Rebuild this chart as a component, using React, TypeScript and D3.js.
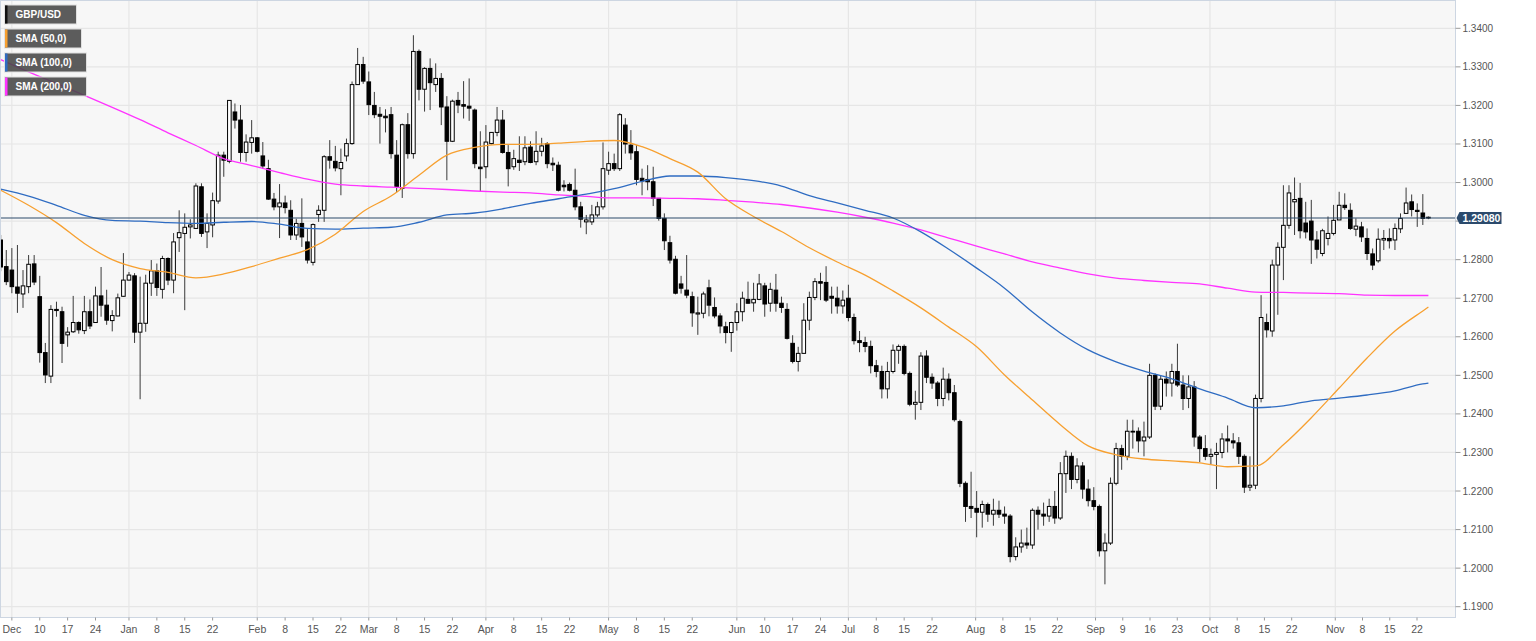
import React from 'react';
import * as d3 from 'd3';

// ---------- DATA ----------
// first candle date (weekdays only, one candle per weekday)
const firstDay = '2018-11-29';

// [open, high, low, close]
const candles: [number, number, number, number][] = [
  [1.2851,1.2864,1.2770,1.2781],[1.2782,1.2825,1.2734,1.2743],[1.2773,1.2830,1.2713,1.2730],[1.2729,1.2838,1.2662,1.2713],
  [1.2711,1.2773,1.2675,1.2732],[1.2730,1.2812,1.2713,1.2788],[1.2789,1.2812,1.2734,1.2742],[1.2704,1.2758,1.2533,1.2559],
  [1.2559,1.2584,1.2480,1.2501],[1.2498,1.2682,1.2480,1.2671],[1.2671,1.2691,1.2652,1.2668],[1.2665,1.2678,1.2532,1.2583],
  [1.2605,1.2625,1.2574,1.2612],[1.2613,1.2706,1.2610,1.2637],[1.2637,1.2640,1.2608,1.2618],[1.2616,1.2706,1.2607,1.2665],
  [1.2665,1.2697,1.2620,1.2628],[1.2637,1.2730,1.2636,1.2706],[1.2706,1.2781,1.2652,1.2682],[1.2682,1.2722,1.2631,1.2643],
  [1.2642,1.2669,1.2614,1.2655],[1.2654,1.2712,1.2653,1.2701],[1.2705,1.2817,1.2704,1.2747],[1.2747,1.2768,1.2746,1.2760],
  [1.2758,1.2765,1.2584,1.2612],[1.2612,1.2756,1.2438,1.2635],[1.2635,1.2761,1.2613,1.2739],[1.2739,1.2799,1.2706,1.2771],
  [1.2771,1.2790,1.2706,1.2728],[1.2723,1.2810,1.2699,1.2803],[1.2803,1.2806,1.2734,1.2747],[1.2747,1.2869,1.2713,1.2846],
  [1.2857,1.2928,1.2820,1.2870],[1.2868,1.2920,1.2669,1.2884],[1.2885,1.2905,1.2855,1.2890],[1.2881,1.2998,1.2880,1.2991],
  [1.2989,1.2998,1.2859,1.2868],[1.2872,1.2920,1.2830,1.2894],[1.2890,1.2974,1.2858,1.2953],[1.2952,1.3080,1.2945,1.3071],
  [1.3071,1.3080,1.3015,1.3058],[1.3055,1.3214,1.3050,1.3213],[1.3183,1.3205,1.3140,1.3162],[1.3162,1.3201,1.3054,1.3078],
  [1.3078,1.3125,1.3054,1.3105],[1.3104,1.3162,1.3075,1.3116],[1.3116,1.3118,1.3078,1.3081],[1.3069,1.3105,1.3035,1.3043],
  [1.3036,1.3059,1.2955,1.2957],[1.2957,1.2973,1.2928,1.2937],[1.2937,1.2996,1.2856,1.2947],[1.2947,1.2966,1.2920,1.2935],
  [1.2928,1.2954,1.2851,1.2864],[1.2864,1.2906,1.2851,1.2894],[1.2894,1.2959,1.2833,1.2859],[1.2846,1.2880,1.2790,1.2799],
  [1.2793,1.2894,1.2785,1.2891],[1.2917,1.2941,1.2898,1.2928],[1.2928,1.3071,1.2898,1.3067],[1.3067,1.3110,1.3036,1.3058],
  [1.3055,1.3095,1.3029,1.3038],[1.3036,1.3088,1.2967,1.3052],[1.3069,1.3114,1.3055,1.3101],[1.3101,1.3262,1.3098,1.3254],
  [1.3254,1.3349,1.3254,1.3306],[1.3306,1.3326,1.3256,1.3263],[1.3261,1.3288,1.3175,1.3202],[1.3200,1.3235,1.3167,1.3176],
  [1.3177,1.3196,1.3101,1.3172],[1.3172,1.3190,1.3130,1.3168],[1.3176,1.3196,1.3062,1.3075],[1.3071,1.3110,1.2975,1.2990],
  [1.2985,1.3153,1.2960,1.3150],[1.3150,1.3180,1.3062,1.3075],[1.3075,1.3382,1.3062,1.3340],[1.3340,1.3345,1.3213,1.3242],
  [1.3242,1.3299,1.3184,1.3296],[1.3296,1.3322,1.3188,1.3259],[1.3254,1.3309,1.3235,1.3270],[1.3270,1.3284,1.3149,1.3196],
  [1.3196,1.3224,1.3006,1.3107],[1.3107,1.3215,1.3105,1.3211],[1.3213,1.3235,1.3180,1.3201],[1.3202,1.3263,1.3166,1.3198],
  [1.3198,1.3270,1.3160,1.3193],[1.3188,1.3192,1.3037,1.3049],[1.3040,1.3133,1.2976,1.3036],[1.3041,1.3149,1.3011,1.3105],
  [1.3101,1.3131,1.3099,1.3130],[1.3130,1.3196,1.3120,1.3162],[1.3162,1.3188,1.3075,1.3078],[1.3078,1.3097,1.2990,1.3036],
  [1.3041,1.3085,1.3033,1.3062],[1.3058,1.3120,1.3030,1.3052],[1.3054,1.3120,1.3045,1.3090],[1.3092,1.3107,1.3050,1.3052],
  [1.3054,1.3133,1.3045,1.3081],[1.3081,1.3116,1.3068,1.3095],[1.3101,1.3105,1.3037,1.3049],[1.3050,1.3065,1.3030,1.3046],
  [1.3045,1.3054,1.2977,1.2980],[1.2993,1.3006,1.2977,1.2989],[1.2995,1.3000,1.2977,1.2980],[1.2980,1.3036,1.2928,1.2937],
  [1.2937,1.2950,1.2883,1.2905],[1.2898,1.2916,1.2866,1.2903],[1.2898,1.2942,1.2890,1.2916],[1.2916,1.2950,1.2910,1.2937],
  [1.2937,1.3104,1.2930,1.3036],[1.3032,1.3080,1.3020,1.3049],[1.3049,1.3075,1.3030,1.3036],[1.3036,1.3180,1.3030,1.3176],
  [1.3149,1.3167,1.3075,1.3100],[1.3097,1.3136,1.3059,1.3077],[1.3080,1.3097,1.2993,1.3008],[1.3011,1.3036,1.2967,1.3004],
  [1.3008,1.3045,1.2980,1.3002],[1.3002,1.3041,1.2939,1.2959],[1.2959,1.2960,1.2901,1.2907],[1.2907,1.2920,1.2825,1.2849],
  [1.2844,1.2862,1.2790,1.2799],[1.2801,1.2810,1.2710,1.2713],[1.2737,1.2758,1.2712,1.2726],[1.2721,1.2812,1.2700,1.2708],
  [1.2704,1.2717,1.2626,1.2662],[1.2659,1.2704,1.2605,1.2662],[1.2661,1.2717,1.2648,1.2711],[1.2727,1.2748,1.2653,1.2682],
  [1.2676,1.2702,1.2648,1.2654],[1.2654,1.2661,1.2609,1.2628],[1.2626,1.2639,1.2583,1.2611],[1.2611,1.2639,1.2561,1.2637],
  [1.2637,1.2687,1.2616,1.2665],[1.2665,1.2717,1.2640,1.2700],[1.2697,1.2743,1.2686,1.2687],[1.2688,1.2740,1.2665,1.2697],
  [1.2697,1.2763,1.2695,1.2737],[1.2732,1.2740,1.2652,1.2685],[1.2687,1.2740,1.2665,1.2723],[1.2721,1.2763,1.2665,1.2687],
  [1.2687,1.2704,1.2662,1.2676],[1.2671,1.2687,1.2593,1.2596],[1.2583,1.2604,1.2531,1.2536],[1.2536,1.2574,1.2510,1.2557],
  [1.2557,1.2687,1.2557,1.2643],[1.2643,1.2717,1.2617,1.2702],[1.2702,1.2752,1.2695,1.2743],[1.2743,1.2766,1.2695,1.2739],
  [1.2741,1.2783,1.2690,1.2695],[1.2705,1.2730,1.2660,1.2700],[1.2700,1.2730,1.2660,1.2680],[1.2680,1.2720,1.2660,1.2695],
  [1.2700,1.2735,1.2640,1.2650],[1.2650,1.2660,1.2580,1.2590],[1.2590,1.2615,1.2560,1.2585],[1.2585,1.2600,1.2560,1.2575],
  [1.2575,1.2590,1.2505,1.2525],[1.2525,1.2540,1.2495,1.2510],[1.2510,1.2525,1.2440,1.2465],[1.2465,1.2535,1.2440,1.2510],
  [1.2510,1.2580,1.2505,1.2565],[1.2565,1.2580,1.2530,1.2575],[1.2575,1.2580,1.2500,1.2505],[1.2505,1.2510,1.2420,1.2425],
  [1.2425,1.2460,1.2385,1.2430],[1.2430,1.2560,1.2410,1.2550],[1.2550,1.2565,1.2480,1.2495],[1.2495,1.2505,1.2465,1.2480],
  [1.2480,1.2485,1.2420,1.2440],[1.2440,1.2520,1.2420,1.2490],[1.2490,1.2505,1.2435,1.2455],[1.2455,1.2475,1.2380,1.2385],
  [1.2380,1.2385,1.2210,1.2220],[1.2220,1.2225,1.2120,1.2160],[1.2160,1.2250,1.2130,1.2155],[1.2155,1.2200,1.2080,1.2145],
  [1.2145,1.2175,1.2105,1.2165],[1.2165,1.2170,1.2120,1.2140],[1.2140,1.2180,1.2110,1.2150],[1.2150,1.2175,1.2130,1.2140],
  [1.2140,1.2160,1.2115,1.2135],[1.2135,1.2140,1.2015,1.2030],[1.2030,1.2080,1.2020,1.2055],[1.2055,1.2100,1.2040,1.2065],
  [1.2065,1.2105,1.2050,1.2060],[1.2060,1.2155,1.2050,1.2150],[1.2150,1.2160,1.2100,1.2140],[1.2140,1.2170,1.2110,1.2135],
  [1.2135,1.2180,1.2120,1.2160],[1.2160,1.2200,1.2115,1.2130],[1.2130,1.2275,1.2125,1.2245],[1.2245,1.2305,1.2195,1.2290],
  [1.2290,1.2300,1.2205,1.2230],[1.2230,1.2285,1.2220,1.2265],[1.2265,1.2275,1.2180,1.2205],[1.2205,1.2230,1.2160,1.2175],
  [1.2175,1.2210,1.2150,1.2160],[1.2160,1.2165,1.2030,1.2045],[1.2045,1.2090,1.1958,1.2065],[1.2065,1.2235,1.2060,1.2220],
  [1.2220,1.2325,1.2215,1.2310],[1.2310,1.2320,1.2255,1.2290],[1.2290,1.2385,1.2280,1.2355],[1.2355,1.2385,1.2310,1.2355],
  [1.2355,1.2365,1.2300,1.2330],[1.2330,1.2380,1.2290,1.2340],[1.2340,1.2530,1.2335,1.2500],[1.2500,1.2505,1.2410,1.2420],
  [1.2420,1.2500,1.2410,1.2490],[1.2490,1.2510,1.2445,1.2480],[1.2480,1.2530,1.2445,1.2510],[1.2510,1.2582,1.2470,1.2475],
  [1.2475,1.2500,1.2410,1.2440],[1.2440,1.2500,1.2415,1.2470],[1.2470,1.2485,1.2315,1.2340],[1.2340,1.2345,1.2275,1.2310],
  [1.2310,1.2345,1.2280,1.2290],[1.2290,1.2310,1.2270,1.2295],[1.2295,1.2325,1.2205,1.2300],[1.2300,1.2350,1.2285,1.2335],
  [1.2335,1.2370,1.2300,1.2330],[1.2330,1.2350,1.2310,1.2325],[1.2325,1.2340,1.2270,1.2290],[1.2290,1.2295,1.2195,1.2210],
  [1.2210,1.2290,1.2200,1.2215],[1.2215,1.2450,1.2205,1.2440],[1.2440,1.2708,1.2430,1.2650],[1.2637,1.2660,1.2598,1.2618],
  [1.2615,1.2800,1.2600,1.2786],[1.2786,1.2845,1.2657,1.2832],[1.2832,1.2993,1.2747,1.2889],[1.2889,1.2993,1.2880,1.2973],
  [1.2950,1.3013,1.2864,1.2956],[1.2959,1.2999,1.2855,1.2875],[1.2895,1.2950,1.2855,1.2872],[1.2900,1.2955,1.2789,1.2851],
  [1.2851,1.2874,1.2803,1.2827],[1.2816,1.2880,1.2809,1.2875],[1.2855,1.2912,1.2837,1.2868],[1.2868,1.2942,1.2863,1.2902],
  [1.2903,1.2976,1.2903,1.2941],[1.2941,1.2972,1.2929,1.2935],[1.2928,1.2946,1.2877,1.2881],[1.2879,1.2907,1.2861,1.2887],
  [1.2885,1.2898,1.2846,1.2859],[1.2855,1.2881,1.2799,1.2816],[1.2815,1.2829,1.2773,1.2786],[1.2797,1.2881,1.2792,1.2853],
  [1.2851,1.2877,1.2825,1.2855],[1.2855,1.2881,1.2829,1.2849],[1.2851,1.2894,1.2825,1.2881],[1.2880,1.2920,1.2869,1.2907],
  [1.2920,1.2987,1.2920,1.2947],[1.2950,1.2969,1.2912,1.2930],[1.2928,1.2946,1.2885,1.2925],[1.2921,1.2970,1.2890,1.2907],
  [1.2910,1.2912,1.2905,1.2908],
];

// moving averages, sampled every 5th candle (plus the last candle)
const smaStep = 5;
const sma50: number[] = [
  1.2980,1.2941,1.2896,1.2842,1.2800,1.2777,1.2767,1.2753,1.2763,1.2782,1.2804,1.2826,1.2866,1.2925,1.2965,1.3019,
  1.3071,1.3091,1.3099,1.3099,1.3102,1.3107,1.3109,1.3093,1.3062,1.3027,1.2958,1.2912,1.2873,1.2831,1.2794,1.2760,
  1.2719,1.2675,1.2625,1.2574,1.2501,1.2436,1.2372,1.2317,1.2294,1.2283,1.2278,1.2273,1.2263,1.2265,1.2320,1.2390,
  1.2467,1.2545,1.2615,1.2667,1.2677,
];
const sma100: number[] = [
  1.2983,1.2965,1.2941,1.2915,1.2902,1.2900,1.2896,1.2894,1.2897,1.2899,1.2892,1.2881,1.2879,1.2882,1.2884,1.2897,
  1.2916,1.2921,1.2932,1.2946,1.2958,1.2970,1.2984,1.3003,1.3017,1.3017,1.3013,1.3005,1.2991,1.2966,1.2947,1.2928,
  1.2908,1.2872,1.2827,1.2778,1.2726,1.2664,1.2610,1.2566,1.2535,1.2511,1.2491,1.2465,1.2441,1.2416,1.2421,1.2434,
  1.2441,1.2449,1.2460,1.2478,1.2480,
];
const sma200: number[] = [
  1.3319,1.3287,1.3257,1.3226,1.3195,1.3163,1.3129,1.3096,1.3062,1.3044,1.3026,1.3009,1.2996,1.2991,1.2988,1.2985,
  1.2982,1.2978,1.2975,1.2973,1.2968,1.2964,1.2960,1.2960,1.2959,1.2958,1.2954,1.2949,1.2943,1.2934,1.2923,1.2910,
  1.2895,1.2877,1.2856,1.2835,1.2815,1.2794,1.2778,1.2763,1.2752,1.2746,1.2741,1.2737,1.2726,1.2716,1.2715,1.2713,
  1.2712,1.2708,1.2707,1.2707,1.2707,
];

const currentPrice = 1.2908;
const yTicks = [1.19, 1.20, 1.21, 1.22, 1.23, 1.24, 1.25, 1.26, 1.27, 1.28, 1.29, 1.30, 1.31, 1.32, 1.33, 1.34];

// x-axis ticks: [date, label, isMonth]
const xTicks: [string, string, boolean][] = [
  ['2018-12-03','Dec',true],['2018-12-10','10',false],['2018-12-17','17',false],['2018-12-24','24',false],
  ['2019-01-01','Jan',true],['2019-01-08','8',false],['2019-01-15','15',false],['2019-01-22','22',false],
  ['2019-02-01','Feb',true],['2019-02-08','8',false],['2019-02-15','15',false],['2019-02-22','22',false],
  ['2019-03-01','Mar',true],['2019-03-08','8',false],['2019-03-15','15',false],['2019-03-22','22',false],
  ['2019-04-01','Apr',true],['2019-04-08','8',false],['2019-04-15','15',false],['2019-04-22','22',false],
  ['2019-05-01','May',true],['2019-05-08','8',false],['2019-05-15','15',false],['2019-05-22','22',false],
  ['2019-06-03','Jun',true],['2019-06-10','10',false],['2019-06-17','17',false],['2019-06-24','24',false],
  ['2019-07-01','Jul',true],['2019-07-08','8',false],['2019-07-15','15',false],['2019-07-22','22',false],
  ['2019-08-01','Aug',true],['2019-08-08','8',false],['2019-08-15','15',false],['2019-08-22','22',false],
  ['2019-09-02','Sep',true],['2019-09-09','9',false],['2019-09-16','16',false],['2019-09-23','23',false],
  ['2019-10-01','Oct',true],['2019-10-08','8',false],['2019-10-15','15',false],['2019-10-22','22',false],
  ['2019-11-01','Nov',true],['2019-11-08','8',false],['2019-11-15','15',false],['2019-11-22','22',false],
];

const legendItems: [string, string][] = [
  ['GBP/USD', '#111111'],
  ['SMA (50,0)', '#f7a030'],
  ['SMA (100,0)', '#2f6cc2'],
  ['SMA (200,0)', '#ff33ff'],
];

// ---------- CHART ----------
const W = 1536, H = 641;
const plot = { left: 0.5, right: 1455.5, top: 0.5, bottom: 617.5 };
const FONT = '"Liberation Sans", Arial, Helvetica, sans-serif';

function weekdayDates(start: string, count: number): string[] {
  const out: string[] = [];
  const d = new Date(start + 'T12:00:00Z');
  while (out.length < count) {
    const wd = d.getUTCDay();
    if (wd !== 0 && wd !== 6) out.push(d.toISOString().slice(0, 10));
    d.setUTCDate(d.getUTCDate() + 1);
  }
  return out;
}

export default function App() {
  const n = candles.length;
  const dates = weekdayDates(firstDay, n);
  const x = d3.scaleLinear().domain([0, n - 1]).range([0.7, 1428.4]);
  const xTick = d3.scaleLinear().domain([0, 167, n - 1]).range([x(0), x(167), 1417]);
  const y = d3.scaleLinear().domain([1.19, 1.34]).range([606.7, 28.3]);

  const smaIndex = (k: number, len: number) => (k === len - 1 ? n - 1 : k * smaStep);
  const line = d3.line<number>()
    .x((_, k) => x(smaIndex(k, 53)))
    .y((v) => y(v))
    .curve(d3.curveMonotoneX);

  const bodyW = 3.6;
  const yCur = y(currentPrice);

  return (
    <svg width={W} height={H} style={{ position: 'absolute', left: 0, top: 0, background: '#fff' }}
      fontFamily={FONT}>
      <defs>
        <clipPath id="plotclip">
          <rect x={plot.left} y={plot.top} width={plot.right - plot.left} height={plot.bottom - plot.top} />
        </clipPath>
      </defs>
      <rect x={plot.left} y={plot.top} width={plot.right - plot.left} height={plot.bottom - plot.top}
        fill="#f7f7f7" />
      {/* grid */}
      {yTicks.map((t) => (
        <line key={'gy' + t} x1={plot.left} x2={plot.right} y1={y(t)} y2={y(t)} stroke="#e6e6e6" strokeWidth={1.2} />
      ))}
      {xTicks.filter((t) => t[2]).map((t) => {
        const xi = xTick(dates.indexOf(t[0]));
        return <line key={'gx' + t[0]} x1={xi} x2={xi} y1={plot.top} y2={plot.bottom} stroke="#e6e6e6" strokeWidth={1.2} />;
      })}
      <g clipPath="url(#plotclip)">
        {/* candles */}
        {candles.map((c, i) => {
          const [o, h, l, cl] = c;
          const cx = x(i);
          const up = cl >= o;
          const top = y(Math.max(o, cl));
          const bot = y(Math.min(o, cl));
          return (
            <g key={i}>
              <line x1={cx} x2={cx} y1={y(h)} y2={y(l)} stroke="#3a3a3a" strokeWidth={1} />
              <rect x={cx - bodyW / 2} y={top} width={bodyW} height={Math.max(bot - top, 0.8)}
                fill={up ? '#ffffff' : '#000000'} stroke="#000" strokeWidth={1} />
            </g>
          );
        })}
        {/* moving averages */}
        <path d={line(sma200) || ''} fill="none" stroke="#ff33ff" strokeWidth={1.3} />
        <path d={line(sma100) || ''} fill="none" stroke="#2f6cc2" strokeWidth={1.3} />
        <path d={line(sma50) || ''} fill="none" stroke="#f7a030" strokeWidth={1.3} />
        {/* current price line */}
        <line x1={plot.left} x2={plot.right} y1={yCur} y2={yCur} stroke="#2c4a6b" strokeWidth={1.2} />
      </g>
      {/* plot border */}
      <rect x={plot.left} y={plot.top} width={plot.right - plot.left} height={plot.bottom - plot.top}
        fill="none" stroke="#cdd6e2" strokeWidth={1} />
      {/* y axis (labels hidden where the current-price tag sits) */}
      {yTicks.map((t) => (
        <g key={'ty' + t}>
          <line x1={plot.right} x2={plot.right + 5} y1={y(t)} y2={y(t)} stroke="#999" strokeWidth={1} />
          {Math.abs(y(t) - yCur) > 12 && (
            <text x={plot.right + 7} y={y(t)} dy="0.35em" fontSize={10} fill="#555">{t.toFixed(4)}</text>
          )}
        </g>
      ))}
      {/* x axis */}
      {xTicks.map((t, k) => {
        const xi = xTick(dates.indexOf(t[0]));
        return (
          <g key={'tx' + k}>
            <line x1={xi} x2={xi} y1={plot.bottom} y2={plot.bottom + 3} stroke="#999" strokeWidth={1} />
            <text x={xi} y={629} dy="0.35em" textAnchor="middle" fontSize={10.5} fill="#555">{t[1]}</text>
          </g>
        );
      })}
      {/* current price label */}
      <g>
        <path d={`M${plot.right + 1},${yCur} L${plot.right + 4},${yCur - 6} L${plot.right + 46},${yCur - 6} L${plot.right + 46},${yCur + 6} L${plot.right + 4},${yCur + 6} Z`}
          fill="#2b4a6c" />
        <text x={plot.right + 7} y={yCur} dy="0.36em" fontSize={10.5} fontWeight="bold" fill="#fff">
          {currentPrice.toFixed(5)}
        </text>
      </g>
      {/* legend */}
      {legendItems.map((it, k) => {
        const widths = [72, 77, 82, 82];
        const yy = 5 + k * 24;
        return (
          <g key={'lg' + k}>
            <rect x={4.5} y={yy} width={widths[k]} height={19} fill="#474747" fillOpacity={0.88} stroke="#e0e0e0" strokeWidth={1} />
            <rect x={5} y={yy + 0.5} width={2.5} height={18} fill={it[1]} />
            <text x={15.5} y={yy + 9.8} dy="0.35em" fontSize={10} fontWeight="bold" fill="#fff">{it[0]}</text>
          </g>
        );
      })}
    </svg>
  );
}
